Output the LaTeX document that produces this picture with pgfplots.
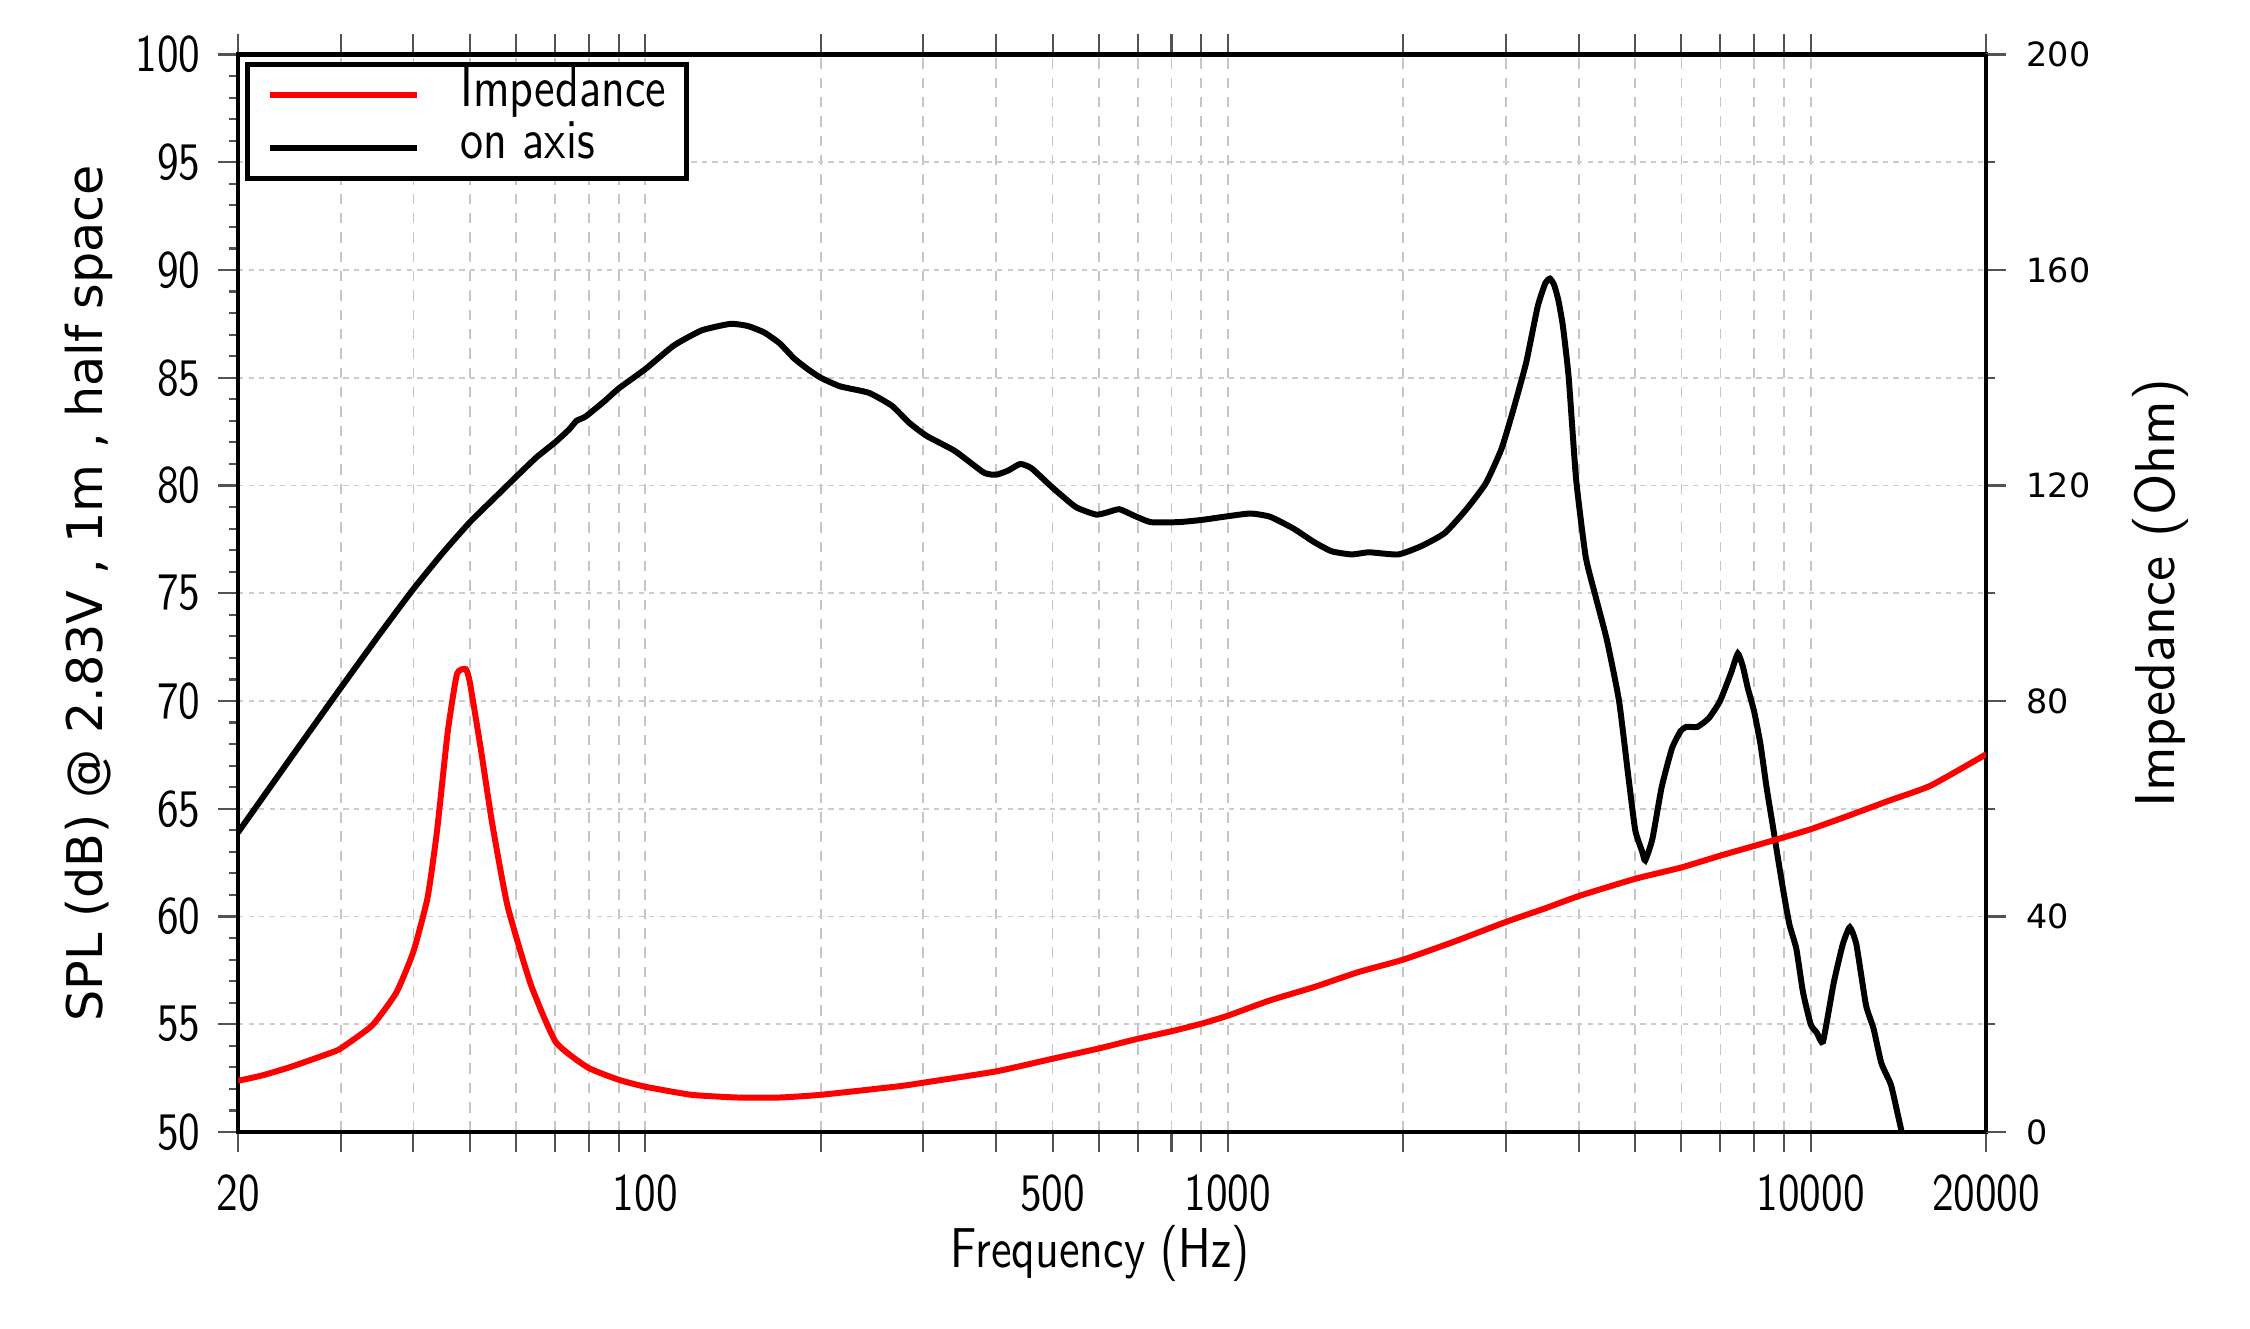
\documentclass[border=0pt]{standalone}
\usepackage{fontspec}
\usepackage{pgfplots}
\pgfplotsset{compat=1.18}
\newfontfamily\gnufont{lmsans10-regular.otf}[FakeStretch=0.82]
\newfontfamily\lmsans{lmsans10-regular.otf}
\newfontfamily\dejavu{DejaVu Sans}

% on-axis SPL response, dB
\pgfplotstableread{
f spl
20 63.9
25 67.6
30 70.6
35 73.1
40 75.2
45 76.9
50 78.3
55 79.4
60 80.4
65 81.3
70 82.0
74 82.6
76.2 83.0
79 83.2
85 83.9
90 84.5
100 85.4
112 86.5
125 87.2
140 87.5
150 87.4
160 87.1
170 86.6
180 85.9
190 85.4
200 85.0
216 84.6
242 84.3
265 83.7
284 82.9
304 82.3
340 81.6
381 80.6
400 80.5
420 80.7
440 81.0
460 80.8
500 79.9
548 79.0
594 78.65
620 78.75
651 78.9
690 78.6
737 78.3
823 78.3
900 78.4
985 78.55
1092 78.7
1181 78.55
1296 78.0
1400 77.4
1505 76.95
1630 76.8
1747 76.9
1960 76.8
2152 77.2
2357 77.8
2566 78.9
2770 80.1
2947 81.7
3087 83.5
3249 85.7
3400 88.3
3506 89.4
3570 89.6
3630 89.3
3690 88.6
3757 87.4
3844 85.0
3958 80.3
4110 76.7
4270 74.9
4472 72.8
4690 70.0
4865 66.5
5000 64.0
5140 63.0
5200 62.6
5350 63.6
5550 66.0
5780 67.8
5980 68.6
6116 68.8
6393 68.8
6686 69.2
6990 70.0
7300 71.3
7500 72.2
7650 71.6
7800 70.6
8000 69.5
8200 68.0
8400 66.0
8600 64.3
8800 62.6
9000 61.0
9200 59.6
9450 58.5
9700 56.5
10000 55.0
10250 54.6
10500 54.2
10950 56.9
11350 58.7
11670 59.5
11980 58.7
12440 55.9
12820 54.8
13220 53.2
13730 52.2
14060 51.0
14330 50.0
}\spldata

% impedance magnitude, Ohm
\pgfplotstableread{
f z
20 9.5
22 10.5
24.5 12.0
28.7 14.6
30 15.5
34 19.8
37.4 25.9
40 33.5
42.3 43.5
43.9 55.8
45.8 74.2
47.5 85.0
49.2 85.9
50 83.4
52.2 71.1
54.6 57.3
58 42.0
63.6 27.4
70.2 16.7
79.6 12.0
90 9.7
100 8.4
120 6.9
144 6.4
170 6.4
200 6.9
273 8.5
300 9.15
400 11.25
500 13.6
600 15.5
700 17.3
800 18.7
900 20.1
1000 21.6
1178 24.4
1405 26.9
1676 29.7
2000 32.0
2468 35.5
3000 39.0
3500 41.5
4000 43.8
5000 47.0
6000 49.1
7000 51.3
8000 53.1
9000 54.7
10000 56.2
11540 58.6
13630 61.5
16070 64.3
20000 70.1
}\impdata

\begin{document}
\begin{tikzpicture}
\useasboundingbox (-2.38,-1.97) rectangle (20.12,11.32);
\begin{axis}[
  at={(0,0)}, anchor=south west,
  scale only axis, width=17.48cm, height=10.775cm,
  xmode=log, xmin=20, xmax=20000,
  axis line style={-, line width=1.2pt},
  tick align=outside,
  major tick length=0.2cm, minor tick length=0.09cm,
  tick style={gray!65!black, line width=0.6pt},
  /pgf/number format/assume math mode=true,
  ymin=50, ymax=100,
  xtick={20,30,40,50,60,70,80,90,100,200,300,400,500,600,700,800,900,1000,2000,3000,4000,5000,6000,7000,8000,9000,10000,20000},
  xticklabels={20,,,,,,,,100,,,,500,,,,,1000,,,,,,,,,10000,20000},
  xtick pos=both, ytick pos=left,
  ytick={50,55,...,100}, minor y tick num=4,
  xmajorgrids, ymajorgrids,
  major x grid style={gray!45, line width=0.5pt, dash pattern=on 3pt off 2.5pt},
  major y grid style={gray!40, line width=0.5pt, dash pattern=on 1.5pt off 1.5pt},
  tick label style={font=\gnufont\fontsize{15}{18}\selectfont},
  xticklabel style={anchor=center, yshift=-0.41cm},
  yticklabel style={anchor=east, inner sep=0pt, xshift=-0.17cm},
  xlabel={Frequency (Hz)},
  xlabel style={at={(rel axis cs:0.4931,-0.1123)}, anchor=center, font=\gnufont\fontsize{16}{19}\selectfont},
  ylabel={SPL (dB) @ 2.83V , 1m , half space},
  ylabel style={at={(rel axis cs:-0.0852,0.5)}, anchor=center, font=\dejavu\fontsize{14}{17}\selectfont},
]
\addplot[black, line width=1.7pt, smooth, tension=0.3] table[x=f, y=spl] {\spldata};
\end{axis}
\begin{axis}[
  at={(0,0)}, anchor=south west,
  scale only axis, width=17.48cm, height=10.775cm,
  xmode=log, xmin=20, xmax=20000,
  axis line style={-, line width=1.2pt},
  tick align=outside,
  major tick length=0.2cm, minor tick length=0.09cm,
  tick style={gray!65!black, line width=0.6pt},
  /pgf/number format/assume math mode=true,
  ymin=0, ymax=200,
  axis x line=none, axis y line*=right,
  xtick=\empty,
  ytick={0,40,...,200}, minor ytick={20,60,...,180},
  yticklabel style={font=\dejavu\fontsize{9.5}{11}\selectfont, anchor=west, inner sep=0pt, xshift=0.2cm},
  ylabel={Impedance (Ohm)},
  ylabel style={at={(rel axis cs:1.0995,0.5)}, anchor=center, font=\lmsans\fontsize{16}{19}\selectfont},
  legend cell align=left,
  legend image code/.code={\draw[#1, line width=1.7pt] (0cm,0cm) -- (1.47cm,0cm);},
  legend style={at={(rel axis cs:0,1)}, anchor=north west, xshift=0.07cm, yshift=-0.075cm,
    draw=black, line width=1.4pt, inner xsep=0.2cm, inner ysep=0.08cm,
    column sep=0.40cm, row sep=2.2pt,
    font=\gnufont\fontsize{16}{19}\selectfont,
    nodes={inner sep=0pt, text height=9.6pt, text depth=3.2pt},
    every even column/.style={text width=2.2cm}},
]
\addplot[red, line width=1.7pt, smooth, tension=0.3] table[x=f, y=z] {\impdata};
\addlegendentry{Impedance}
\addlegendimage{black, line width=1.7pt}
\addlegendentry{on axis}
\end{axis}
\end{tikzpicture}
\end{document}
